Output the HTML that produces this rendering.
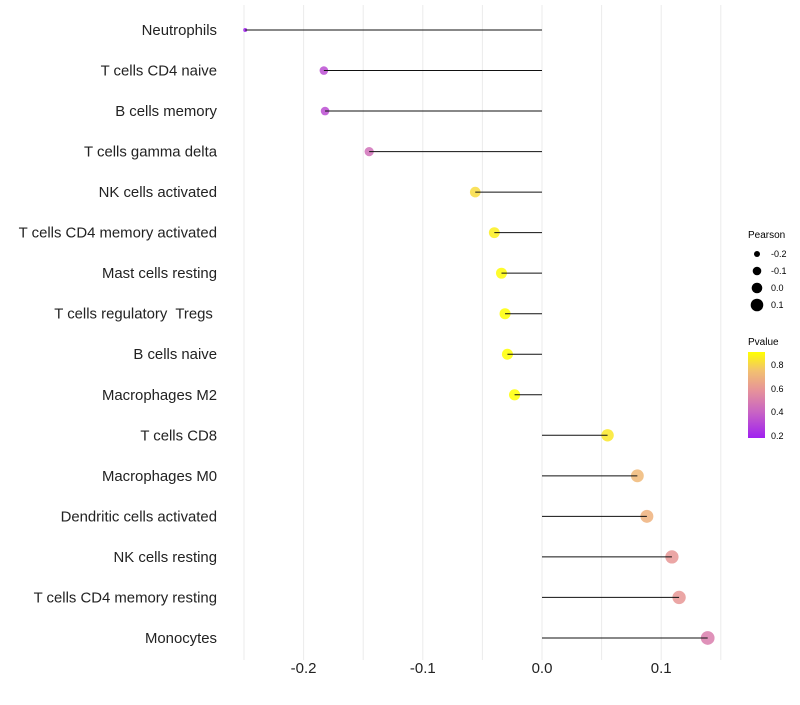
<!DOCTYPE html>
<html><head><meta charset="utf-8"><style>
body{margin:0;background:#fff;font-family:"Liberation Sans",sans-serif;}
text{white-space:pre;}
</style></head><body>
<svg id="chart" width="800" height="700" xmlns="http://www.w3.org/2000/svg">
<defs><linearGradient id="pg" x1="0" y1="1" x2="0" y2="0">
<stop offset="0" stop-color="#A020F0"/><stop offset="0.3" stop-color="#C864C4"/><stop offset="0.55" stop-color="#E6929A"/><stop offset="0.78" stop-color="#F2C070"/><stop offset="1" stop-color="#FFFF00"/>
</linearGradient></defs>
<g id="grid"></g>
<g id="marks"></g>
<g id="labels"></g>
<g font-size="9" fill="#000">
<text x="748" y="238" font-size="10">Pearson</text>
<circle cx="757" cy="254" r="3"/><text x="771" y="257">-0.2</text>
<circle cx="757" cy="271" r="4.3"/><text x="771" y="274">-0.1</text>
<circle cx="757" cy="288" r="5.3"/><text x="771" y="291">0.0</text>
<circle cx="757" cy="305" r="6.3"/><text x="771" y="308">0.1</text>
</g>
<g font-size="9" fill="#000">
<text x="748" y="345" font-size="10">Pvalue</text>
<rect x="748" y="352" width="17" height="86" fill="url(#pg)"/>
<text x="771" y="368">0.8</text>
<text x="771" y="392">0.6</text>
<text x="771" y="415">0.4</text>
<text x="771" y="439">0.2</text>
</g>
</svg>
<script>
const categories=["Neutrophils","T cells CD4 naive","B cells memory","T cells gamma delta","NK cells activated","T cells CD4 memory activated","Mast cells resting","T cells regulatory  Tregs ","B cells naive","Macrophages M2","T cells CD8","Macrophages M0","Dendritic cells activated","NK cells resting","T cells CD4 memory resting","Monocytes"];
const pearson=[-0.249,-0.183,-0.182,-0.145,-0.056,-0.040,-0.034,-0.031,-0.029,-0.023,0.055,0.080,0.088,0.109,0.115,0.139];
const pvalue=[0.15,0.33,0.33,0.45,0.82,0.87,0.9,0.92,0.93,0.95,0.85,0.72,0.7,0.6,0.6,0.5];
const xTicks=[-0.2,-0.1,0.0,0.1];
const xTickLabels=["-0.2","-0.1","0.0","0.1"];
const NS="http://www.w3.org/2000/svg";
const xs=v=>542+v*1192;
const ys=i=>30+i*40.53;
const rs=v=>v<-0.2?2:4.3+(v+0.183)*8;
const stops=[[0.18,[160,32,240]],[0.4,[200,100,196]],[0.58,[230,146,154]],[0.75,[242,192,112]],[0.91,[255,255,0]]];
function col(p){p=Math.max(0.18,Math.min(0.91,p));for(let i=0;i<stops.length-1;i++){const a=stops[i],b=stops[i+1];if(p<=b[0]){const t=(p-a[0])/(b[0]-a[0]);const c=a[1].map((x,k)=>Math.round(x+(b[1][k]-x)*t));return `rgb(${c.join(',')})`;}}return "rgb(255,255,0)";}
function mk(tag,attrs,parent){const e=document.createElementNS(NS,tag);for(const k in attrs)e.setAttribute(k,attrs[k]);parent.appendChild(e);return e;}
const grid=document.getElementById('grid'),marks=document.getElementById('marks'),labels=document.getElementById('labels');
[-0.25,-0.2,-0.15,-0.1,-0.05,0,0.05,0.1,0.15].forEach(v=>{
 const l=mk('line',{x1:xs(v),x2:xs(v),y1:5,y2:660,stroke:'#ebebeb','stroke-width':1},grid);
 
 
});
xTicks.forEach((v,i)=>{
 const t=mk('text',{x:xs(v),y:673,'text-anchor':'middle','font-size':15,fill:'#222'},labels);
 t.textContent=xTickLabels[i];
 
 
});
categories.forEach((c,i)=>{
 const y=ys(i);
 const t=mk('text',{x:217,y:y+5,'text-anchor':'end','font-size':14.9,fill:'#222'},labels);
 t.textContent=c;
 
 
 const p=mk('circle',{cx:xs(pearson[i]),cy:y,r:rs(pearson[i]),fill:col(pvalue[i]),'fill-opacity':0.85},marks);
 
 
 const s=mk('line',{x1:xs(0),x2:xs(pearson[i]),y1:y,y2:y,stroke:'#111','stroke-width':1},marks);
 
 
});
</script>
</body></html>
